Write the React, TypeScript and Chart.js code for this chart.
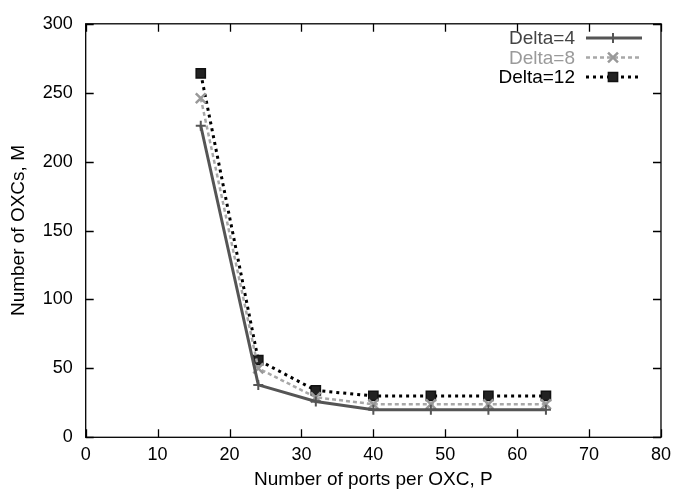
import React, { useEffect, useRef } from "react";
import { Chart, registerables } from "chart.js";

Chart.register(...registerables);

const ports = [16, 24, 32, 40, 48, 56, 64];
const delta4 = [226, 38, 26, 20, 20, 20, 20];
const delta8 = [246, 50, 29, 24, 24, 24, 24];
const delta12 = [264, 56, 34, 30, 30, 30, 30];
const seriesLabels = ["Delta=4", "Delta=8", "Delta=12"];
const xTicks = [0, 10, 20, 30, 40, 50, 60, 70, 80];
const yTicks = [0, 50, 100, 150, 200, 250, 300];

const FONT = "'Liberation Sans', Arial, sans-serif";

function drawPoint(ctx: CanvasRenderingContext2D, style: string, r: number, x: number, y: number) {
  ctx.beginPath();
  if (style === "cross") {
    ctx.moveTo(x - r, y);
    ctx.lineTo(x + r, y);
    ctx.moveTo(x, y - r);
    ctx.lineTo(x, y + r);
    ctx.stroke();
  } else if (style === "crossRot") {
    const d = r * Math.SQRT1_2;
    ctx.moveTo(x - d, y - d);
    ctx.lineTo(x + d, y + d);
    ctx.moveTo(x - d, y + d);
    ctx.lineTo(x + d, y - d);
    ctx.stroke();
  } else {
    const d = r * Math.SQRT1_2;
    ctx.rect(x - d, y - d, 2 * d, 2 * d);
    ctx.fill();
    ctx.stroke();
  }
}

const frame = {
  id: "frame",
  afterDraw(chart: any) {
    const ctx = chart.ctx;
    const { left, right, top, bottom } = chart.chartArea;
    const xs = chart.scales.x;
    const ys = chart.scales.y;
    ctx.save();
    ctx.strokeStyle = "#000";
    ctx.lineWidth = 1.3;
    ctx.strokeRect(left, top, right - left, bottom - top);
    const t = 8;
    ctx.beginPath();
    xTicks.forEach((v) => {
      const px = Math.round(xs.getPixelForValue(v)) + 0.5;
      ctx.moveTo(px, bottom);
      ctx.lineTo(px, bottom - t);
      ctx.moveTo(px, top);
      ctx.lineTo(px, top + t);
    });
    yTicks.forEach((v) => {
      const py = Math.round(ys.getPixelForValue(v)) + 0.5;
      ctx.moveTo(left, py);
      ctx.lineTo(left + t, py);
      ctx.moveTo(right, py);
      ctx.lineTo(right - t, py);
    });
    ctx.stroke();

    // legend
    const rows = chart.data.datasets;
    ctx.font = `19px ${FONT}`;
    ctx.textAlign = "right";
    ctx.textBaseline = "middle";
    rows.forEach((ds: any, i: number) => {
      const y = 38 + i * 19.5;
      ctx.fillStyle = ds.legendColor;
      ctx.fillText(ds.label, 575, y + 1);
      ctx.save();
      ctx.strokeStyle = ds.borderColor;
      ctx.lineWidth = ds.borderWidth;
      ctx.setLineDash(ds.borderDash || []);
      ctx.beginPath();
      ctx.moveTo(586, y);
      ctx.lineTo(642, y);
      ctx.stroke();
      ctx.restore();
      ctx.save();
      ctx.setLineDash([]);
      ctx.strokeStyle = ds.pointBorderColor;
      ctx.fillStyle = ds.pointBackgroundColor;
      ctx.lineWidth = ds.pointBorderWidth;
      drawPoint(ctx, ds.pointStyle, ds.pointRadius, 613, y);
      ctx.restore();
    });
    ctx.restore();
  },
};

export default function App() {
  const ref = useRef<HTMLCanvasElement>(null);
  useEffect(() => {
    if (!ref.current) return;
    const mk = (arr: number[]) => ports.map((p, i) => ({ x: p, y: arr[i] }));
    const chart = new Chart(ref.current, {
      type: "line",
      data: {
        datasets: [
          {
            label: seriesLabels[0],
            data: mk(delta4),
            borderColor: "#555",
            legendColor: "#444",
            borderWidth: 3,
            pointStyle: "cross",
            pointRadius: 5,
            pointBorderWidth: 2,
            pointBorderColor: "#555",
            pointBackgroundColor: "#555",
          } as any,
          {
            label: seriesLabels[1],
            data: mk(delta8),
            borderColor: "#a8a8a8",
            legendColor: "#9a9a9a",
            borderWidth: 2.5,
            borderDash: [4, 3],
            pointStyle: "crossRot",
            pointRadius: 7,
            pointBorderWidth: 2.5,
            pointBorderColor: "#999",
            pointBackgroundColor: "#999",
          } as any,
          {
            label: seriesLabels[2],
            data: mk(delta12),
            borderColor: "#000",
            legendColor: "#000",
            borderWidth: 3,
            borderDash: [3, 4],
            pointStyle: "rect",
            pointRadius: 6.5,
            pointBorderWidth: 1.5,
            pointBorderColor: "#111",
            pointBackgroundColor: "#222",
          } as any,
        ],
      },
      options: {
        animation: false,
        responsive: false,
        maintainAspectRatio: false,
        layout: { padding: { top: 19.5, right: 13.7, left: 0, bottom: 0 } },
        plugins: { legend: { display: false }, tooltip: { enabled: false } },
        elements: { line: { tension: 0 } },
        scales: {
          x: {
            type: "linear",
            min: 0,
            max: 80,
            afterFit: (s: any) => {
              s.height = 57.7;
            },
            afterBuildTicks: (s: any) => {
              s.ticks = xTicks.map((v) => ({ value: v }));
            },
            grid: { display: false, drawTicks: false },
            border: { display: false },
            ticks: { color: "#000", font: { family: FONT, size: 18 }, padding: 7 },
            title: {
              display: true,
              text: "Number of ports per OXC, P",
              color: "#000",
              font: { family: FONT, size: 19 },
              padding: { top: 0, bottom: 4 },
            },
          },
          y: {
            type: "linear",
            min: 0,
            max: 300,
            afterFit: (s: any) => {
              s.width = 85.7;
            },
            afterBuildTicks: (s: any) => {
              s.ticks = yTicks.map((v) => ({ value: v }));
            },
            grid: { display: false, drawTicks: false },
            border: { display: false },
            ticks: { color: "#000", font: { family: FONT, size: 18 }, padding: 13 },
            title: {
              display: true,
              text: "Number of OXCs, M",
              color: "#000",
              font: { family: FONT, size: 19 },
              padding: { top: 7, bottom: 0 },
            },
          },
        },
      } as any,
      plugins: [frame],
    });
    return () => chart.destroy();
  }, []);
  return (
    <div style={{ position: "fixed", left: 0, top: 0, width: 678, height: 495, background: "#fff" }}>
      <canvas ref={ref} width={678} height={495} style={{ width: 678, height: 495 }} />
    </div>
  );
}
